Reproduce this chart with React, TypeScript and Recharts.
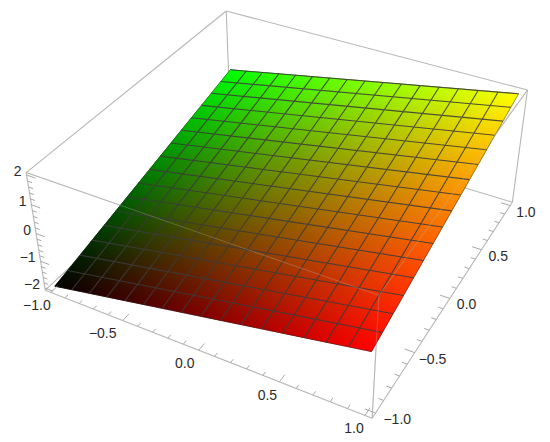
import { ScatterChart, Scatter, XAxis, YAxis } from "recharts";

const meshX = [-1, -0.875, -0.75, -0.625, -0.5, -0.375, -0.25, -0.125, 0, 0.125, 0.25, 0.375, 0.5, 0.625, 0.75, 0.875, 1];
const meshY = [-1, -0.875, -0.75, -0.625, -0.5, -0.375, -0.25, -0.125, 0, 0.125, 0.25, 0.375, 0.5, 0.625, 0.75, 0.875, 1];

// surface height, one row per meshY value
const zRows = [
  [-2, -1.875, -1.75, -1.625, -1.5, -1.375, -1.25, -1.125, -1, -0.875, -0.75, -0.625, -0.5, -0.375, -0.25, -0.125, 0],
  [-1.875, -1.75, -1.625, -1.5, -1.375, -1.25, -1.125, -1, -0.875, -0.75, -0.625, -0.5, -0.375, -0.25, -0.125, 0, 0.125],
  [-1.75, -1.625, -1.5, -1.375, -1.25, -1.125, -1, -0.875, -0.75, -0.625, -0.5, -0.375, -0.25, -0.125, 0, 0.125, 0.25],
  [-1.625, -1.5, -1.375, -1.25, -1.125, -1, -0.875, -0.75, -0.625, -0.5, -0.375, -0.25, -0.125, 0, 0.125, 0.25, 0.375],
  [-1.5, -1.375, -1.25, -1.125, -1, -0.875, -0.75, -0.625, -0.5, -0.375, -0.25, -0.125, 0, 0.125, 0.25, 0.375, 0.5],
  [-1.375, -1.25, -1.125, -1, -0.875, -0.75, -0.625, -0.5, -0.375, -0.25, -0.125, 0, 0.125, 0.25, 0.375, 0.5, 0.625],
  [-1.25, -1.125, -1, -0.875, -0.75, -0.625, -0.5, -0.375, -0.25, -0.125, 0, 0.125, 0.25, 0.375, 0.5, 0.625, 0.75],
  [-1.125, -1, -0.875, -0.75, -0.625, -0.5, -0.375, -0.25, -0.125, 0, 0.125, 0.25, 0.375, 0.5, 0.625, 0.75, 0.875],
  [-1, -0.875, -0.75, -0.625, -0.5, -0.375, -0.25, -0.125, 0, 0.125, 0.25, 0.375, 0.5, 0.625, 0.75, 0.875, 1],
  [-0.875, -0.75, -0.625, -0.5, -0.375, -0.25, -0.125, 0, 0.125, 0.25, 0.375, 0.5, 0.625, 0.75, 0.875, 1, 1.125],
  [-0.75, -0.625, -0.5, -0.375, -0.25, -0.125, 0, 0.125, 0.25, 0.375, 0.5, 0.625, 0.75, 0.875, 1, 1.125, 1.25],
  [-0.625, -0.5, -0.375, -0.25, -0.125, 0, 0.125, 0.25, 0.375, 0.5, 0.625, 0.75, 0.875, 1, 1.125, 1.25, 1.375],
  [-0.5, -0.375, -0.25, -0.125, 0, 0.125, 0.25, 0.375, 0.5, 0.625, 0.75, 0.875, 1, 1.125, 1.25, 1.375, 1.5],
  [-0.375, -0.25, -0.125, 0, 0.125, 0.25, 0.375, 0.5, 0.625, 0.75, 0.875, 1, 1.125, 1.25, 1.375, 1.5, 1.625],
  [-0.25, -0.125, 0, 0.125, 0.25, 0.375, 0.5, 0.625, 0.75, 0.875, 1, 1.125, 1.25, 1.375, 1.5, 1.625, 1.75],
  [-0.125, 0, 0.125, 0.25, 0.375, 0.5, 0.625, 0.75, 0.875, 1, 1.125, 1.25, 1.375, 1.5, 1.625, 1.75, 1.875],
  [0, 0.125, 0.25, 0.375, 0.5, 0.625, 0.75, 0.875, 1, 1.125, 1.25, 1.375, 1.5, 1.625, 1.75, 1.875, 2],
];

const xyMajor = [-1, -0.5, 0, 0.5, 1];
const xyMinor = [-0.9, -0.8, -0.7, -0.6, -0.4, -0.3, -0.2, -0.1, 0.1, 0.2, 0.3, 0.4, 0.6, 0.7, 0.8, 0.9];
const zMajor = [-2, -1, 0, 1, 2];
const zMinor = [-1.8, -1.6, -1.4, -1.2, -0.8, -0.6, -0.4, -0.2, 0.2, 0.4, 0.6, 0.8, 1.2, 1.4, 1.6, 1.8];
const xyLabels = ["\u22121.0", "\u22120.5", "0.0", "0.5", "1.0"];
const zLabels = ["\u22122", "\u22121", "0", "1", "2"];

// box extents (plot range with padding)
const BX = 1.04;
const BZ = 2.08;

// camera calibration: 3D anchor -> where it lands on the 550x442 page
const anchors: number[][] = [
  [-BX, -BX, BZ, 27, 173],
  [-BX, -BX, -BZ, 45, 290],
  [-BX, BX, BZ, 226, 11],
  [BX, BX, BZ, 528, 90],
  [BX, -BX, -BZ, 372, 418],
  [BX, BX, -BZ, 512, 203],
  [BX, -BX, BZ, 379, 296],
  [-BX, BX, -BZ, 232, 117],
  [-1, -1, -2, 54, 286],
  [1, -1, 0, 372, 351],
  [1, 1, 2, 518, 93],
  [-1, 1, 0, 229, 70],
];

const solveCamera = () => {
  const rows: number[][] = [];
  anchors.forEach(([X, Y, Z, u, v]) => {
    rows.push([X, Y, Z, 1, 0, 0, 0, 0, -u * X, -u * Y, -u * Z, u]);
    rows.push([0, 0, 0, 0, X, Y, Z, 1, -v * X, -v * Y, -v * Z, v]);
  });
  const n = 11;
  const m: number[][] = [];
  for (let i = 0; i < n; i++) {
    m.push(new Array(n + 1).fill(0));
    for (let j = 0; j <= n; j++) {
      rows.forEach((r) => (m[i][j] += r[i] * r[j]));
    }
  }
  for (let c = 0; c < n; c++) {
    let best = c;
    for (let r = c + 1; r < n; r++) if (Math.abs(m[r][c]) > Math.abs(m[best][c])) best = r;
    [m[c], m[best]] = [m[best], m[c]];
    for (let r = 0; r < n; r++) {
      if (r === c) continue;
      const f = m[r][c] / m[c][c];
      for (let j = c; j <= n; j++) m[r][j] -= f * m[c][j];
    }
  }
  return m.map((r, i) => r[n] / r[i]);
};

const cam = solveCamera();

const project = (x: number, y: number, z: number, extra = {}) => {
  const w = cam[8] * x + cam[9] * y + cam[10] * z + 1;
  return {
    sx: (cam[0] * x + cam[1] * y + cam[2] * z + cam[3]) / w,
    sy: (cam[4] * x + cam[5] * y + cam[6] * z + cam[7]) / w,
    x,
    y,
    z,
    ...extra,
  };
};

type V3 = [number, number, number];
const pairs = (list: [V3, V3][]) => list.flatMap(([a, b]) => [project(...a), project(...b)]);

const c = (sx: number, sy: number, sz: number): V3 => [sx * BX, sy * BX, sz * BZ];

const hiddenEdges = pairs([
  [c(-1, 1, 1), c(-1, 1, -1)],
  [c(-1, 1, -1), c(1, 1, -1)],
  [c(-1, 1, -1), c(-1, -1, -1)],
]);
const frontEdges = pairs([
  [c(-1, -1, 1), c(1, -1, 1)],
  [c(1, 1, 1), c(1, -1, 1)],
  [c(1, -1, -1), c(1, -1, 1)],
]);
const outerEdges = pairs([
  [c(-1, -1, 1), c(-1, -1, -1)],
  [c(-1, -1, -1), c(1, -1, -1)],
  [c(1, -1, -1), c(1, 1, -1)],
  [c(1, 1, -1), c(1, 1, 1)],
  [c(-1, -1, 1), c(-1, 1, 1)],
  [c(-1, 1, 1), c(1, 1, 1)],
]);

const MAJOR = 0.06;
const MINOR = 0.03;
const ticks = pairs([
  ...xyMajor.map((v) => [[v, -BX, -BZ], [v, -BX + MAJOR, -BZ]] as [V3, V3]),
  ...xyMinor.map((v) => [[v, -BX, -BZ], [v, -BX + MINOR, -BZ]] as [V3, V3]),
  ...xyMajor.map((v) => [[BX, v, -BZ], [BX - MAJOR, v, -BZ]] as [V3, V3]),
  ...xyMinor.map((v) => [[BX, v, -BZ], [BX - MINOR, v, -BZ]] as [V3, V3]),
  ...zMajor.map((v) => [[-BX, -BX, v], [-BX + MAJOR, -BX, v]] as [V3, V3]),
  ...zMinor.map((v) => [[-BX, -BX, v], [-BX + MINOR, -BX, v]] as [V3, V3]),
]);

const surface = meshY.flatMap((y, r) => meshX.map((x, i) => project(x, y, zRows[r][i])));

const xLabelData = xyMajor.map((v, i) => project(v, -BX, -BZ, { label: xyLabels[i], nudge: [0, -6, 0, 2, 3][i] }));
const yLabelData = xyMajor.map((v, i) => project(BX, v, -BZ, { label: xyLabels[i], nudge: [0, -4, -1, -1, -2][i] }));
const zLabelData = zMajor.map((v, i) => project(-BX, -BX, v, { label: zLabels[i], nudge: 0 }));

const NoDot = () => null;

const SegmentPairs = (stroke: string, width: number) => (props: any) => {
  const pts = props.points;
  let d = "";
  for (let i = 0; i + 1 < pts.length; i += 2) {
    d += `M${pts[i].x} ${pts[i].y}L${pts[i + 1].x} ${pts[i + 1].y}`;
  }
  return <path d={d} fill="none" stroke={stroke} strokeWidth={width} />;
};

const level = (v: number) => Math.round(((v + 1) / 2) * 255);

// gradient vector across a cell: from the edge a-f over to b, square to that edge
const acrossCell = (a: any, f: any, b: any) => {
  const ex = f.x - a.x;
  const ey = f.y - a.y;
  const len = Math.hypot(ex, ey) || 1;
  const nx = -ey / len;
  const ny = ex / len;
  const reach = (b.x - a.x) * nx + (b.y - a.y) * ny;
  return { x1: a.x, y1: a.y, x2: a.x + nx * reach, y2: a.y + ny * reach };
};

const SurfaceMesh = (props: any) => {
  const pts = props.points;
  const nx = meshX.length;
  const ny = meshY.length;
  const at = (r: number, i: number) => pts[r * nx + i];
  const defs = [];
  const reds = [];
  const greens = [];
  for (let r = 0; r < ny - 1; r++) {
    for (let i = 0; i < nx - 1; i++) {
      const a = at(r, i);
      const b = at(r, i + 1);
      const e = at(r + 1, i + 1);
      const f = at(r + 1, i);
      const poly = `${a.x},${a.y} ${b.x},${b.y} ${e.x},${e.y} ${f.x},${f.y}`;
      const rid = `red-${r}-${i}`;
      const gid = `green-${r}-${i}`;
      defs.push(
        <linearGradient key={rid} id={rid} gradientUnits="userSpaceOnUse" {...acrossCell(a, f, b)}>
          <stop offset="0" stopColor={`rgb(${level(meshX[i])},0,0)`} />
          <stop offset="1" stopColor={`rgb(${level(meshX[i + 1])},0,0)`} />
        </linearGradient>,
        <linearGradient key={gid} id={gid} gradientUnits="userSpaceOnUse" {...acrossCell(a, b, f)}>
          <stop offset="0" stopColor={`rgb(0,${level(meshY[r])},0)`} />
          <stop offset="1" stopColor={`rgb(0,${level(meshY[r + 1])},0)`} />
        </linearGradient>
      );
      reds.push(<polygon key={rid} points={poly} fill={`url(#${rid})`} stroke={`url(#${rid})`} strokeWidth={0.5} />);
      greens.push(<polygon key={gid} points={poly} fill={`url(#${gid})`} stroke={`url(#${gid})`} strokeWidth={0.5} />);
    }
  }
  let lines = "";
  for (let r = 1; r < ny - 1; r++) {
    lines += `M${at(r, 0).x} ${at(r, 0).y}L${at(r, nx - 1).x} ${at(r, nx - 1).y}`;
  }
  for (let i = 1; i < nx - 1; i++) {
    lines += `M${at(0, i).x} ${at(0, i).y}L${at(ny - 1, i).x} ${at(ny - 1, i).y}`;
  }
  const top = `M${at(ny - 1, 0).x} ${at(ny - 1, 0).y}L${at(ny - 1, nx - 1).x} ${at(ny - 1, nx - 1).y}`;
  const rim = `M${at(0, 0).x} ${at(0, 0).y}L${at(0, nx - 1).x} ${at(0, nx - 1).y}L${at(ny - 1, nx - 1).x} ${at(ny - 1, nx - 1).y}M${at(0, 0).x} ${at(0, 0).y}L${at(ny - 1, 0).x} ${at(ny - 1, 0).y}`;
  return (
    <g>
      <defs>{defs}</defs>
      <g style={{ isolation: "isolate" }}>
        <g>{reds}</g>
        <g style={{ mixBlendMode: "screen" }}>{greens}</g>
      </g>
      <path d={rim} fill="none" stroke="rgba(60,60,60,0.3)" strokeWidth={0.8} />
      <path d={lines} fill="none" stroke="rgba(60,60,60,0.85)" strokeWidth={1.1} />
      <path d={top} fill="none" stroke="rgba(60,60,60,0.85)" strokeWidth={1.1} />
    </g>
  );
};

const TickText = (dx: number, dy: number, anchor: string) => (props: any) => (
  <text
    x={props.cx + dx + props.payload.nudge}
    y={props.cy + dy}
    textAnchor={anchor}
    fontFamily="Liberation Sans"
    fontSize={14}
    fill="#2b2b2b"
  >
    {props.payload.label}
  </text>
);

const BOX = "#b6b6b6";

export default function App() {
  return (
    <div style={{ position: "absolute", left: 0, top: 0, width: 550, height: 442, background: "#fff" }}>
      <ScatterChart width={550} height={442} margin={{ top: 0, right: 0, bottom: 0, left: 0 }}>
        <XAxis type="number" dataKey="sx" domain={[0, 550]} hide />
        <YAxis type="number" dataKey="sy" domain={[0, 442]} reversed hide />
        <Scatter data={hiddenEdges} line={SegmentPairs(BOX, 1.1)} shape={NoDot} isAnimationActive={false} />
        <Scatter data={frontEdges} line={SegmentPairs(BOX, 1.1)} shape={NoDot} isAnimationActive={false} />
        <Scatter data={surface} line={SurfaceMesh} shape={NoDot} isAnimationActive={false} />
        <Scatter data={frontEdges} line={SegmentPairs("rgba(187,187,187,0.3)", 1.1)} shape={NoDot} isAnimationActive={false} />
        <Scatter data={outerEdges} line={SegmentPairs(BOX, 1.1)} shape={NoDot} isAnimationActive={false} />
        <Scatter data={ticks} line={SegmentPairs("#a8a8a8", 1)} shape={NoDot} isAnimationActive={false} />
        <Scatter data={xLabelData} shape={TickText(-14, 18, "middle")} isAnimationActive={false} />
        <Scatter data={yLabelData} shape={TickText(8, 11, "start")} isAnimationActive={false} />
        <Scatter data={zLabelData} shape={TickText(-5, 1, "end")} isAnimationActive={false} />
      </ScatterChart>
    </div>
  );
}
